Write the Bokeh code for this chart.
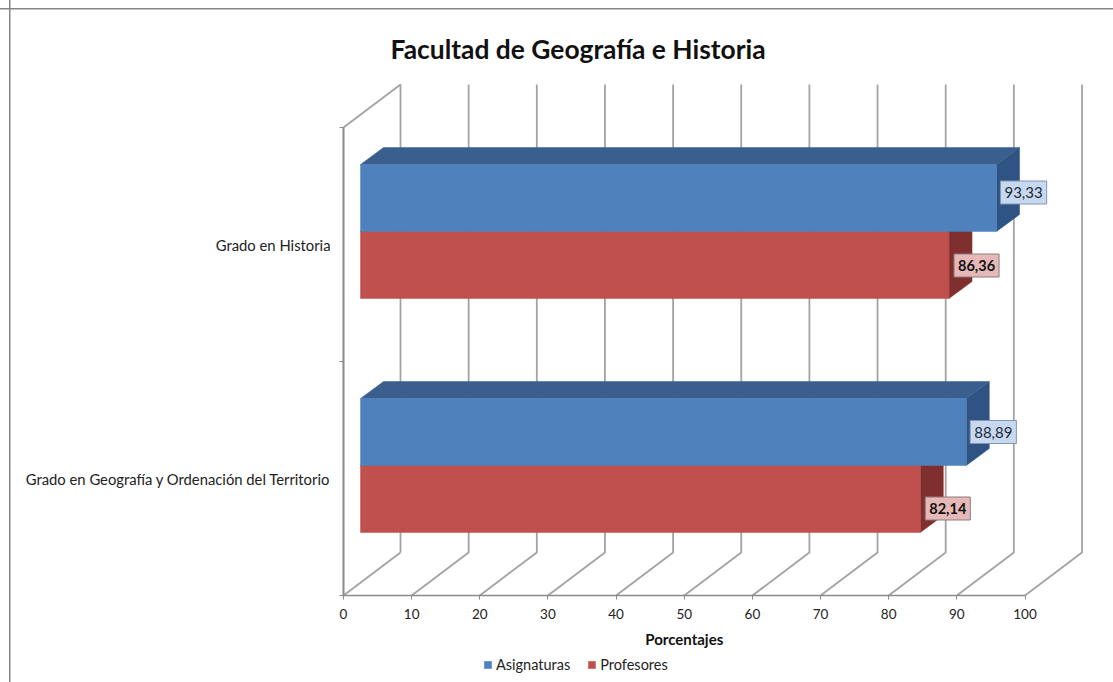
from bokeh.plotting import figure
from bokeh.embed import file_html
from bokeh.resources import INLINE
from bokeh.core.properties import value
from bokeh.models import (ColumnDataSource, FixedTicker, Legend, LegendItem, LinearAxis,
                          Range1d, Title)

# ---- data ----
categories = ["Grado en Geografía y Ordenación del Territorio", "Grado en Historia"]
asignaturas = [88.89, 93.33]
profesores = [82.14, 86.36]
x_ticks = [0, 10, 20, 30, 40, 50, 60, 70, 80, 90, 100]
chart_title = "Facultad de Geografía e Historia"
x_title = "Porcentajes"
series_names = ["Asignaturas", "Profesores"]

# ---- styles / projection constants ----
FONT = "Lato"
GREY = "#a3a3a3"
AX = "#8a8a8a"
WALL_W = 1.8
BLUE, BLUE_TOP, BLUE_SIDE = "#4f81bd", "#3a5f8f", "#2f5483"
RED, RED_SIDE = "#c0504d", "#7f2f2d"
UX, UY = 6.815, 234.0            # pixels per x unit / per category
WALL_DX, WALL_DY = 57 / UX, 43 / UY
BAR_X, BAR_Y = 17 / UX, 63 / UY
BAR_H = 67 / UY
SIDE_DX, SIDE_DY = 23 / UX, 17 / UY

# The frame covers the whole page width and runs to its foot, so that both axes,
# the axis title and the legend sit inside it.
p = figure(frame_width=1113, frame_height=608, output_backend="svg", toolbar_location=None,
           x_range=Range1d(-343 / UX, 770 / UX), y_range=Range1d(-87 / UY, 521 / UY),
           x_axis_location=None, y_axis_location=None, tools="",
           min_border_left=0, min_border_right=0, min_border_top=74, min_border_bottom=0,
           border_fill_color=None, background_fill_color=None, outline_line_color=None)
p.grid.visible = False
p.styles = {
    "background-image": "linear-gradient(#858585,#858585),linear-gradient(#858585,#858585)",
    "background-size": "100% 1.5px,1.5px 100%",
    "background-position": "0 8px,9px 0",
    "background-repeat": "no-repeat",
}

# ---- title ----
p.add_layout(Title(text=chart_title, text_font=FONT, text_font_size="26.4px", text_font_style="bold",
                   text_color="#111111", align="left", offset=390, standoff=19), "above")

# ---- 3D walls ----
n_bands = len(categories)
xs_wall = [[t, t + WALL_DX, t + WALL_DX] for t in x_ticks]
ys_wall = [[0, WALL_DY, n_bands + WALL_DY] for t in x_ticks]
p.multi_line(xs_wall[1:], ys_wall[1:], line_color=GREY, line_width=WALL_W)
p.multi_line([[0, WALL_DX, WALL_DX], [0, 0]],
             [[n_bands, n_bands + WALL_DY, WALL_DY], [0, n_bands]],
             line_color=GREY, line_width=WALL_W)
p.line([0, WALL_DX], [0, WALL_DY], line_color=GREY, line_width=WALL_W)


def bar(vals, base, front, top, side):
    left = [BAR_X] * len(vals)
    right = [v + BAR_X for v in vals]
    bottom = [i + BAR_Y + base * BAR_H for i in range(len(vals))]
    upper = [b + BAR_H for b in bottom]
    p.patches([[r, r + SIDE_DX, r + SIDE_DX, r] for r in right],
              [[b, b + SIDE_DY, u + SIDE_DY, u] for b, u in zip(bottom, upper)],
              fill_color=side, line_color=side, line_width=0.5)
    p.patches([[l, l + SIDE_DX, r + SIDE_DX, r] for l, r in zip(left, right)],
              [[u, u + SIDE_DY, u + SIDE_DY, u] for u in upper],
              fill_color=top, line_color=top, line_width=0.5)
    return p.quad(left=left, right=right, bottom=bottom, top=upper,
                  fill_color=front, line_color=front, line_width=0.5), right, bottom


r_red, red_right, red_bottom = bar(profesores, 0, RED, RED_SIDE, RED_SIDE)
r_blue, blue_right, blue_bottom = bar(asignaturas, 1, BLUE, BLUE_TOP, BLUE_SIDE)

# ---- data labels ----
def fmt(v):
    return f"{v:.2f}".replace(".", ",")


blue_src = ColumnDataSource(dict(x=blue_right, y=[b + BAR_H / 2 for b in blue_bottom],
                                 t=[fmt(v) for v in asignaturas], dy=[0, -5.5]))
red_src = ColumnDataSource(dict(x=red_right, y=[b + BAR_H / 2 for b in red_bottom],
                                t=[fmt(v) for v in profesores], dy=[9.5, 0.5]))
p.text("x", "y", text="t", source=blue_src, x_offset=27, y_offset="dy",
       text_font=value(FONT), text_font_size="15px", text_color="#1f2a36",
       text_align="center", text_baseline="middle",
       background_fill_color="#c6d9f1", border_line_color="#8496b0", border_line_width=1,
       padding=[4, 4, 6, 6])
p.text("x", "y", text="t", source=red_src, x_offset=27.5, y_offset="dy",
       text_font=value(FONT), text_font_size="14.5px", text_font_style="bold", text_color="#111111",
       text_align="center", text_baseline="middle",
       background_fill_color="#e6b9b8", border_line_color="#8c7a7a", border_line_width=1,
       padding=[4, 4, 6, 6])

# ---- axes ----
xaxis = LinearAxis(ticker=FixedTicker(ticks=x_ticks), bounds=(0, 100), fixed_location=0,
                   major_tick_in=0, major_tick_out=4, minor_tick_line_color=None,
                   axis_line_color=AX, axis_line_width=1.6, major_tick_line_color=AX,
                   major_label_text_font=FONT, major_label_text_font_size="13.5px",
                   major_label_text_color="#222222", major_label_standoff=9)
p.add_layout(xaxis, "below")
p.text([(x_ticks[0] + x_ticks[-1]) / 2], [-43 / UY], text=[x_title],
       text_font=value(FONT), text_font_size="15px", text_font_style="bold",
       text_color="#111111", text_align="center", text_baseline="middle")

band_mid = [i + 0.5 for i in range(n_bands)]
yaxis = LinearAxis(ticker=FixedTicker(ticks=band_mid, minor_ticks=list(range(n_bands + 1))),
                   bounds=(0, n_bands), fixed_location=0,
                   major_label_overrides=dict(zip(band_mid, categories)),
                   major_tick_in=0, major_tick_out=0, minor_tick_in=0, minor_tick_out=4,
                   axis_line_color=AX, axis_line_width=1.6, minor_tick_line_color=AX,
                   major_label_text_font=FONT, major_label_text_font_size="14.8px",
                   major_label_text_color="#222222", major_label_standoff=9)
p.add_layout(yaxis, "left")

# ---- legend ----
legend = Legend(items=[LegendItem(label=series_names[0], renderers=[r_blue]),
                       LegendItem(label=series_names[1], renderers=[r_red])],
                orientation="horizontal", location=(483, 9), border_line_color=None,
                background_fill_color=None, padding=0, margin=0, spacing=17,
                glyph_width=9, glyph_height=9, label_standoff=4,
                label_text_font=FONT, label_text_font_size="14.5px", label_text_color="#222222")
p.add_layout(legend, "center")

open("out.html", "w").write(file_html(p, INLINE))
